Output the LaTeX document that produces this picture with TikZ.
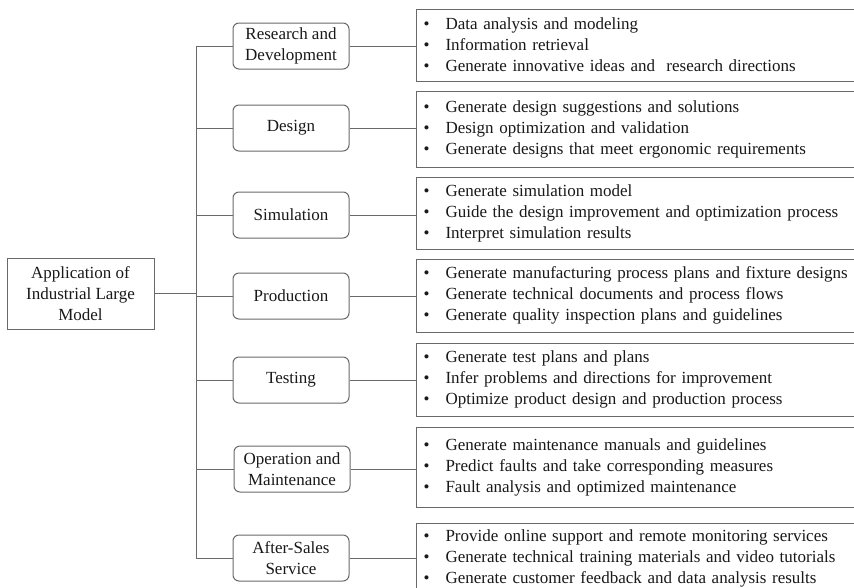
\documentclass[tikz,border=0pt]{standalone}
\usepackage{fontspec}
\setmainfont{Liberation Serif}
\definecolor{ln}{RGB}{105,105,105}
\definecolor{tx}{RGB}{25,25,25}
\newcommand{\bl}[1]{\makebox[22pt][l]{\textbullet}#1\\}
\begin{document}
\begin{tikzpicture}[x=1pt,y=-1pt,
  every node/.style={font=\fontsize{17}{21}\selectfont, text=tx},
  rootbox/.style={draw=ln, line width=1pt, minimum width=147pt, minimum height=71pt, align=center, inner sep=2pt},
  branchbox/.style={draw=ln, line width=1pt, rounded corners=6pt, minimum width=116pt, minimum height=46pt, align=center, inner sep=2pt},
  listbox/.style={draw=ln, line width=1pt, anchor=west, text width=470pt, inner xsep=7pt, align=left, minimum height=72pt},
  conn/.style={draw=ln, line width=1pt}]
\clip (0,0) rectangle (854,587);
\fill[white] (0,0) rectangle (854,587);

\node[rootbox] (root) at (80.5,293.5) {Application of\\Industrial Large\\Model};

\node[branchbox] (b1) at (291,46) {Research and\\Development};
\node[branchbox] (b2) at (291,128) {Design};
\node[branchbox] (b3) at (291,215) {Simulation};
\node[branchbox] (b4) at (291,296) {Production};
\node[branchbox] (b5) at (291,380) {Testing};
\node[branchbox] (b6) at (292,469) {Operation and\\Maintenance};
\node[branchbox] (b7) at (291,558) {After-Sales\\Service};

\node[listbox] (l1) at (416,45) {\bl{Data analysis and modeling}\bl{Information retrieval}\bl{Generate innovative ideas and \ research directions}};
\node[listbox, minimum height=76pt] (l2) at (416,129) {\bl{Generate design suggestions and solutions}\bl{Design optimization and validation}\bl{Generate designs that meet ergonomic requirements}};
\node[listbox] (l3) at (416,213) {\bl{Generate simulation model}\bl{Guide the design improvement and optimization process}\bl{Interpret simulation results}};
\node[listbox, minimum height=73pt] (l4) at (416,295.5) {\bl{Generate manufacturing process plans and fixture designs}\bl{Generate technical documents and process flows}\bl{Generate quality inspection plans and guidelines}};
\node[listbox, minimum height=73pt] (l5) at (416,379.5) {\bl{Generate test plans and plans}\bl{Infer problems and directions for improvement}\bl{Optimize product design and production process}};
\node[listbox, minimum height=80pt] (l6) at (416,467) {\bl{Generate maintenance manuals and guidelines}\bl{Predict faults and take corresponding measures}\bl{Fault analysis and optimized maintenance}};
\node[listbox, minimum height=70pt] (l7) at (416,558) {\bl{Provide online support and remote monitoring services}\bl{Generate technical training materials and video tutorials}\bl{Generate customer feedback and data analysis results}};

\coordinate (tr) at (196,0);
\draw[conn] (root.east) -- (root.east -| tr);
\draw[conn] (b1.west) -- (b1.west -| tr) -- (b7.west -| tr) -- (b7.west);
\foreach \i in {2,...,6} {\draw[conn] (b\i.west) -- (b\i.west -| tr);}
\foreach \i in {1,...,7} {\draw[conn] (b\i.east) -- (b\i.east -| l\i.west);}
\end{tikzpicture}
\end{document}
